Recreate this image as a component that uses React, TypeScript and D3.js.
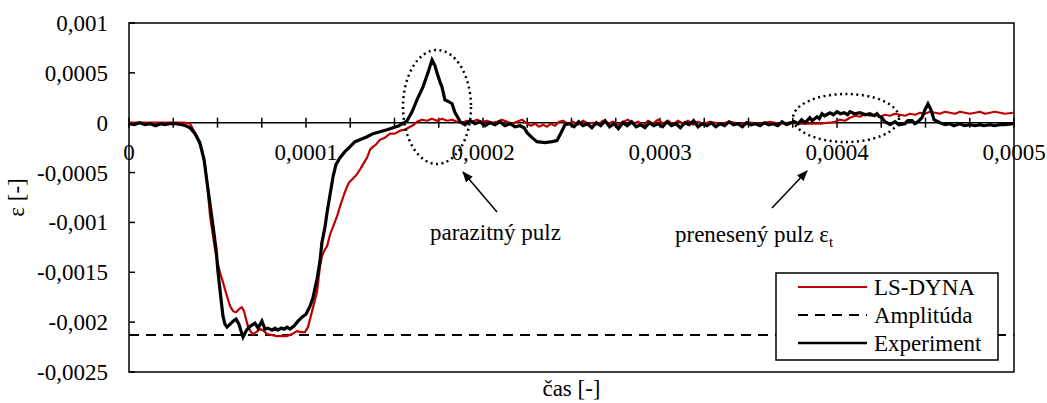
import React from "react";
import * as d3 from "d3";

// time in microseconds, strain in microstrain (1e-6)
const expTime = [0,3,6,9,12,15,18,20,23,26.5,30,32,34.5,37.3,40,42.4,44.1,45.8,47.5,49.2,50.3,52,53.1,54.2,55.4,57.1,58.8,60.5,62.1,63.3,64.4,66.1,67.8,69.5,71.2,72.9,75.1,76.8,78.5,80.8,82.5,84.2,86,87.6,89.3,91,93.2,95.5,97.7,100,102.3,104,106.2,107.9,109,110.7,111.9,113.6,115.3,116.9,119.2,122,124.9,127.7,130.5,134.5,137.9,141.8,145.8,149.2,152.5,155.4,157.1,159.9,162.7,166.1,168.9,171.2,172.9,174,175.7,176.8,178.5,180.8,182.5,184.2,185.9,187,189.8,192.7,195.5,198.3,201.1,204,206.8,209.6,212.4,215.3,218.1,220.9,223.2,224.9,227.7,230.5,235,239,241.8,244.1,246.3,249,251.5,254,256.5,259,261.5,264,266.5,269,271.5,274,276.5,279,281.5,284,286.5,289,291.5,294,296.5,299,301.5,304,306.5,309,311.5,314,316.5,319,321.5,324,326.5,329,331.5,334,336.5,339,341.5,344,346.5,349,351.5,354,356.5,359,361.5,364,366.5,369,371.5,374,376,378,380,382,384.7,386,388.7,390,391.5,393,396,398,400,402,404,406,407.3,410,413,416,418.6,421,422.6,424,425.4,427,428.2,430,432.8,435,438.4,440,442.4,444,445.8,448,449.7,451.4,453.1,454.8,458.2,461,463.8,466,469.5,472,475.1,478,480.8,483,486.4,489,492.1,495,499.4];
const expStrain = [-10,-20,0,-20,-10,-30,-10,-20,-10,-10,-20,-30,-50,-110,-200,-370,-600,-820,-1040,-1270,-1500,-1770,-1940,-2020,-2050,-2020,-1990,-1970,-2020,-2090,-2150,-2090,-2050,-2030,-2010,-2060,-1990,-2070,-2060,-2080,-2060,-2080,-2060,-2070,-2050,-2070,-2040,-1990,-1950,-1920,-1840,-1750,-1570,-1390,-1200,-1050,-900,-720,-540,-420,-350,-290,-240,-190,-170,-140,-110,-90,-70,-50,-30,0,20,110,230,360,500,630,570,500,410,360,230,210,190,100,50,10,-20,20,-10,10,-30,0,-20,10,-30,-10,-40,-30,-50,-100,-150,-190,-200,-190,-180,-100,-20,-10,-40,10,-30,-10,-50,0,-30,20,-40,-10,-60,0,-30,10,-40,-20,-50,0,-30,-10,-40,10,-30,-10,-50,0,-20,20,-40,-10,-30,0,-40,-10,-30,10,-20,-10,-40,0,-20,-10,-30,0,-20,-10,-30,10,-20,0,10,-10,30,0,50,20,60,40,90,70,100,80,110,90,100,80,110,90,100,80,90,70,90,60,50,10,0,-20,10,-20,-10,20,20,-10,10,50,130,190,130,30,0,-20,-10,-30,-10,-30,-20,-30,-20,-30,-20,-30,-20,-20,-10];

const dynaTime = [0,26.6,31.6,34.5,37.9,41.2,42.9,44.1,45.8,47.5,48.6,50.3,51.4,53.1,54.2,55.9,57.1,58.8,60.5,62.1,63.8,65,66.1,67.2,68.9,70.1,71.8,74,75.7,78,80.8,83.6,86.4,89.3,92.1,94.9,97.2,99.4,101.1,102.3,104,106.2,107.9,109,110.7,111.9,113.6,115.8,117.5,119.2,121.5,123.2,124.3,126,128.2,130.5,132.8,134.5,136.2,137.9,139.5,141.8,144.6,147.5,150.3,153.1,155.9,158.8,161,162.7,165.5,168.4,171.2,174,176.8,179.7,182.5,185.3,188.1,191,193.8,196.6,199.4,202.3,205.1,207.9,210.7,213.6,216.4,219.2,222,224.9,227.1,229.4,231.6,233.9,236.2,238.4,240.7,242.9,245.2,248,250.8,253.7,256.5,259.3,262.1,265,267.8,270.6,273.4,276.3,279.1,281.9,284.7,287.6,290.4,293.2,296,298.9,301.7,304.5,307.3,310.2,313,315.8,318.6,321.5,324.3,328.2,333.9,339.5,345.2,350.8,356.5,362.1,367.8,373.4,379.1,384.7,390.4,396,398.9,401.7,404.5,407.3,410.2,413,415.8,418.6,421.5,424.3,427.1,429.9,432.8,435.6,438.4,441.2,444.1,446.9,449.7,452.5,455.4,458.2,461,463.8,466.7,469.5,472.3,475.1,478,480.8,483.6,486.4,489.3,492.1,494.9,499.4];
const dynaStrain = [0,0,0,-10,-120,-270,-420,-600,-940,-1140,-1270,-1420,-1500,-1600,-1670,-1770,-1840,-1890,-1900,-1870,-1850,-1890,-1970,-2040,-2100,-2120,-2100,-2070,-2080,-2120,-2130,-2140,-2140,-2140,-2120,-2090,-2100,-2100,-2050,-1970,-1850,-1700,-1440,-1340,-1270,-1240,-1120,-1020,-940,-840,-720,-640,-600,-570,-530,-470,-400,-350,-270,-240,-220,-170,-150,-110,-110,-80,-70,-40,-20,10,30,20,40,20,40,20,30,10,0,20,10,30,10,20,0,10,30,10,-10,10,30,-10,-30,-10,-40,-20,-40,-10,-30,10,20,-10,10,-20,20,-10,0,-20,20,-10,10,-20,10,30,-10,10,-30,20,-10,30,-10,20,-20,20,-10,20,-20,10,-10,10,-10,10,-10,0,-10,10,-10,0,-10,-10,-10,0,10,30,20,50,70,60,90,70,80,60,80,70,90,80,70,90,80,100,90,110,100,90,110,100,90,110,100,90,100,110,90,100,110,100,90,100];

const amplitude = -2130;

const xTicks = [0, 100, 200, 300, 400, 500];
const yTicks = [1000, 500, 0, -500, -1000, -1500, -2000, -2500];

const W = 1047, H = 403;
const L = 129, R = 1014, T = 23, B = 372;

const fmt = (v: number) => {
  if (v === 0) return "0";
  return String(+(v * 1e-6).toPrecision(6)).replace(".", ",");
};

export default function App() {
  const x = d3.scaleLinear().domain([0, 500]).range([L, R]);
  const y = d3.scaleLinear().domain([-2500, 1000]).range([B, T]);
  const line = d3.line<[number, number]>().x(d => x(d[0])).y(d => y(d[1]));
  const expPts = expTime.map((t, i) => [t, expStrain[i]] as [number, number]);
  const dynaPts = dynaTime.map((t, i) => [t, dynaStrain[i]] as [number, number]);
  const minorTicks = d3.range(0, 500.001, 25);
  const font = "'Liberation Serif', 'Times New Roman', serif";
  const fs = 23;
  return (
    <svg width={W} height={H} style={{ position: "absolute", left: 0, top: 0, background: "#fff" }} fontFamily={font}>
      <defs>
        <marker id="ah" viewBox="0 0 10 10" refX="9" refY="5" markerWidth="11" markerHeight="11" markerUnits="userSpaceOnUse" orient="auto">
          <path d="M0,1 L10,5 L0,9 z" fill="#000" />
        </marker>
      </defs>
      <rect x={0} y={0} width={W} height={H} fill="#fff" />
      <rect x={L} y={T} width={R - L} height={B - T} fill="none" stroke="#000" strokeWidth={1.5} />
      {yTicks.map(v => (
        <g key={v}>
          <line x1={L} x2={L + 6} y1={y(v)} y2={y(v)} stroke="#000" strokeWidth={1.5} />
          <text x={108} y={y(v)} dy="0.35em" textAnchor="end" fontSize={fs}>{fmt(v)}</text>
        </g>
      ))}
      <line x1={L} x2={R} y1={y(0)} y2={y(0)} stroke="#000" strokeWidth={1.5} />
      {minorTicks.map(v => (
        <line key={v} x1={x(v)} x2={x(v)} y1={y(0) - 5} y2={y(0) + 5} stroke="#000" strokeWidth={1.5} />
      ))}
      {xTicks.map(v => (
        <text key={v} x={x(v)} y={160} textAnchor="middle" fontSize={fs}>{fmt(v)}</text>
      ))}
      <line x1={L} x2={R} y1={y(amplitude)} y2={y(amplitude)} stroke="#000" strokeWidth={2} strokeDasharray="10,7" />
      <path d={line(dynaPts) || ""} fill="none" stroke="#C00000" strokeWidth={2.2} strokeLinejoin="round" />
      <path d={line(expPts) || ""} fill="none" stroke="#000" strokeWidth={3.2} strokeLinejoin="miter" />
      <ellipse cx={437} cy={107} rx={34} ry={57} fill="none" stroke="#000" strokeWidth={2.5} strokeDasharray="2,3.5" />
      <ellipse cx={846} cy={118} rx={53} ry={24} fill="none" stroke="#000" strokeWidth={2.5} strokeDasharray="2,3.5" />
      <line x1={497} y1={212} x2={463} y2={172} stroke="#000" strokeWidth={1.5} markerEnd="url(#ah)" />
      <line x1={772} y1={208} x2={807} y2={171} stroke="#000" strokeWidth={1.5} markerEnd="url(#ah)" />
      <text x={430} y={240} fontSize={fs}>parazitný pulz</text>
      <text x={675} y={242} fontSize={fs}>prenesený pulz ε<tspan fontSize={15} dy={5}>t</tspan></text>
      <text transform={`translate(24,${(T + B) / 2}) rotate(-90)`} textAnchor="middle" fontSize={fs}>ε [-]</text>
      <text x={(L + R) / 2} y={396} textAnchor="middle" fontSize={fs}>čas [-]</text>
      <rect x={776} y={273} width={222} height={87} fill="#fff" stroke="#000" strokeWidth={1.5} />
      <line x1={798} x2={867} y1={287} y2={287} stroke="#C00000" strokeWidth={2.2} />
      <line x1={798} x2={867} y1={315} y2={315} stroke="#000" strokeWidth={2} strokeDasharray="10,7" />
      <line x1={798} x2={867} y1={343} y2={343} stroke="#000" strokeWidth={2.5} />
      <text x={874} y={287} dy="0.35em" fontSize={fs}>LS-DYNA</text>
      <text x={874} y={315} dy="0.35em" fontSize={fs}>Amplitúda</text>
      <text x={874} y={343} dy="0.35em" fontSize={fs}>Experiment</text>
    </svg>
  );
}
